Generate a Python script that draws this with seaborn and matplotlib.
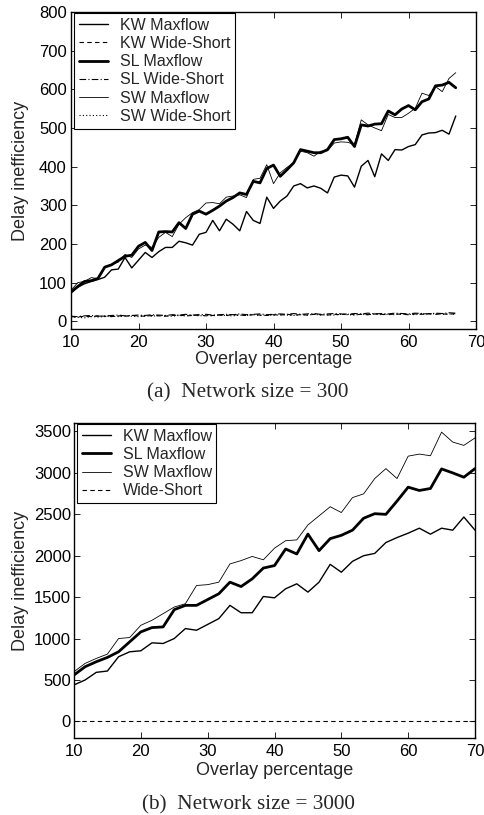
import numpy as np
import pandas as pd
import matplotlib
matplotlib.use("Agg")
import matplotlib.pyplot as plt
import seaborn as sns

sns.set_style("ticks")
plt.rcParams['font.family'] = ['Liberation Sans', 'DejaVu Sans']
plt.rcParams['xtick.direction'] = 'in'
plt.rcParams['ytick.direction'] = 'in'

# ---------------- Panel (a): network size = 300 ----------------
x300 = list(range(10, 68))
kw_max_300 = [75, 88, 97, 103, 108, 114, 133, 135, 165, 138,
              158, 178, 165, 180, 191, 191, 207, 203, 197, 225,
              230, 261, 234, 264, 251, 234, 284, 261, 253, 321,
              292, 311, 324, 350, 356, 345, 350, 344, 332, 373,
              378, 376, 347, 401, 416, 374, 433, 416, 444, 443,
              452, 457, 482, 487, 488, 494, 484, 531]
sl_max_300 = [75, 90, 103, 105, 111, 140, 146, 157, 168, 171,
              194, 204, 183, 231, 232, 231, 255, 240, 277, 285,
              277, 287, 298, 311, 320, 332, 328, 362, 358, 395,
              404, 375, 392, 410, 444, 440, 436, 436, 444, 470,
              472, 476, 452, 508, 505, 510, 511, 544, 534, 549,
              558, 547, 568, 575, 609, 611, 618, 604]
sw_max_300 = [80, 100, 103, 113, 110, 141, 147, 153, 173, 165,
              187, 197, 191, 217, 230, 219, 251, 268, 281, 289,
              306, 307, 304, 321, 324, 327, 320, 367, 370, 405,
              356, 384, 398, 410, 440, 436, 427, 440, 441, 461,
              464, 463, 457, 521, 508, 500, 493, 535, 527, 527,
              538, 551, 590, 584, 607, 594, 628, 643]
kw_ws_300 = [12, 11, 13, 12, 14, 13, 12, 14, 13, 15,
             14, 13, 15, 14, 13, 15, 16, 14, 15, 16,
             14, 15, 16, 15, 17, 16, 15, 17, 16, 15,
             17, 16, 18, 16, 17, 16, 18, 17, 16, 18,
             17, 19, 17, 18, 17, 19, 18, 17, 19, 18,
             17, 19, 18, 20, 18, 19, 18, 20]
sl_ws_300 = [13, 12, 14, 15, 13, 14, 15, 16, 14, 15,
             16, 15, 17, 16, 15, 17, 16, 18, 16, 17,
             18, 16, 17, 18, 17, 19, 17, 18, 19, 17,
             18, 19, 18, 20, 18, 19, 20, 18, 19, 20,
             19, 18, 20, 19, 21, 19, 20, 19, 21, 20,
             19, 21, 20, 19, 21, 20, 22, 21]
sw_ws_300 = [11, 10, 9, 12, 11, 12, 13, 12, 14, 13,
             12, 14, 13, 15, 14, 13, 15, 14, 16, 14,
             15, 14, 16, 15, 14, 16, 15, 17, 15, 16,
             15, 17, 16, 15, 17, 16, 18, 16, 17, 16,
             18, 17, 16, 18, 17, 19, 17, 18, 17, 19,
             18, 17, 19, 18, 20, 18, 19, 18]

# ---------------- Panel (b): network size = 3000 ----------------
x3000 = [10 + 5.0 * i / 3.0 for i in range(37)]
kw_max_3000 = [440, 500, 592, 608, 780, 840, 852, 948, 940, 1000,
               1120, 1100, 1170, 1240, 1400, 1311, 1311, 1507, 1491, 1600,
               1660, 1560, 1680, 1895, 1800, 1931, 1999, 2027, 2158, 2218,
               2271, 2331, 2259, 2331, 2307, 2466, 2307]
sl_max_3000 = [560, 660, 720, 772, 840, 960, 1080, 1132, 1140, 1348,
               1400, 1400, 1470, 1540, 1680, 1627, 1720, 1850, 1880, 2080,
               2020, 2260, 2060, 2205, 2245, 2307, 2451, 2506, 2498, 2658,
               2826, 2786, 2810, 3046, 2998, 2946, 3050]
sw_max_3000 = [600, 700, 760, 812, 1000, 1012, 1160, 1220, 1300, 1380,
               1420, 1640, 1650, 1680, 1900, 1940, 1990, 1950, 2090, 2180,
               2190, 2370, 2480, 2590, 2520, 2700, 2745, 2930, 3050, 2930,
               3200, 3225, 3205, 3490, 3370, 3330, 3420]
ws_3000 = [5] * 37

W, H = 485, 815
fig = plt.figure(figsize=(W / 100, H / 100), dpi=100)
ax1 = fig.add_axes([71 / W, 1 - 329 / H, 405 / W, 317 / H])
ax2 = fig.add_axes([74 / W, 1 - 738 / H, 401 / W, 315 / H])

def draw(ax, x, y, label, lw, ls):
    sns.lineplot(x=x, y=y, ax=ax, color='black', linewidth=lw,
                 linestyle=ls, label=label, estimator=None, sort=False)

draw(ax1, x300, kw_max_300, 'KW Maxflow', 1.0, '-')
draw(ax1, x300, kw_ws_300, 'KW Wide-Short', 0.8, (0, (4, 3)))
draw(ax1, x300, sl_max_300, 'SL Maxflow', 2.0, '-')
draw(ax1, x300, sl_ws_300, 'SL Wide-Short', 0.8, (0, (6, 2, 1, 2)))
draw(ax1, x300, sw_max_300, 'SW Maxflow', 0.6, '-')
draw(ax1, x300, sw_ws_300, 'SW Wide-Short', 0.8, (0, (1, 2)))

draw(ax2, x3000, kw_max_3000, 'KW Maxflow', 1.0, '-')
draw(ax2, x3000, sl_max_3000, 'SL Maxflow', 2.0, '-')
draw(ax2, x3000, sw_max_3000, 'SW Maxflow', 0.6, '-')
draw(ax2, x3000, ws_3000, 'Wide-Short', 0.8, (0, (4, 3)))

cfg = [(ax1, (-20, 800), np.arange(0, 801, 100), 71, 329, 317, 405, 3.0),
       (ax2, (-200, 3600), np.arange(0, 3501, 500), 74, 738, 315, 401, 2.2)]
for ax, ylim, yticks, left, bottom, hgt, wid, ypad in cfg:
    ax.set_xlim(10, 70)
    ax.set_ylim(*ylim)
    ax.set_xticks(np.arange(10, 71, 10))
    ax.set_yticks(yticks)
    ax.tick_params(axis='both', which='both', direction='in', top=True,
                   right=True, length=4, width=0.6, labelsize=12,
                   colors='black')
    ax.tick_params(axis='x', pad=4.5)
    ax.tick_params(axis='y', pad=ypad)
    for s in ax.spines.values():
        s.set_linewidth(1.0)
        s.set_color('black')
        s.set_visible(True)
    ax.set_xlabel('Overlay percentage', fontsize=13)
    ax.set_ylabel('Delay inefficiency', fontsize=13)
    ax.xaxis.set_label_coords(0.5, -(351 - bottom) / hgt)
    ax.yaxis.set_label_coords((29 - left) / wid, 0.5)
    leg = ax.legend(loc='upper left', bbox_to_anchor=(3 / wid, 1 - 1 / hgt),
                    frameon=True, fancybox=False, borderaxespad=0,
                    edgecolor='black', fontsize=11.5, handlelength=1.8,
                    labelspacing=0.2, borderpad=0.3, handletextpad=0.75)
    leg.get_frame().set_linewidth(0.8)
    leg.get_frame().set_alpha(1)

ax2.xaxis.set_label_coords(0.5, -(762 - 738) / 315)

serif = ['Liberation Serif', 'DejaVu Serif']
fig.text(248 / W, 1 - 393 / H, '(a)  Network size = 300', ha='center',
         va='center', fontsize=15.3, family=serif)
fig.text(248 / W, 1 - 805 / H, '(b)  Network size = 3000', ha='center',
         va='center', fontsize=15.3, family=serif)

fig.savefig('out.png', dpi=100)
